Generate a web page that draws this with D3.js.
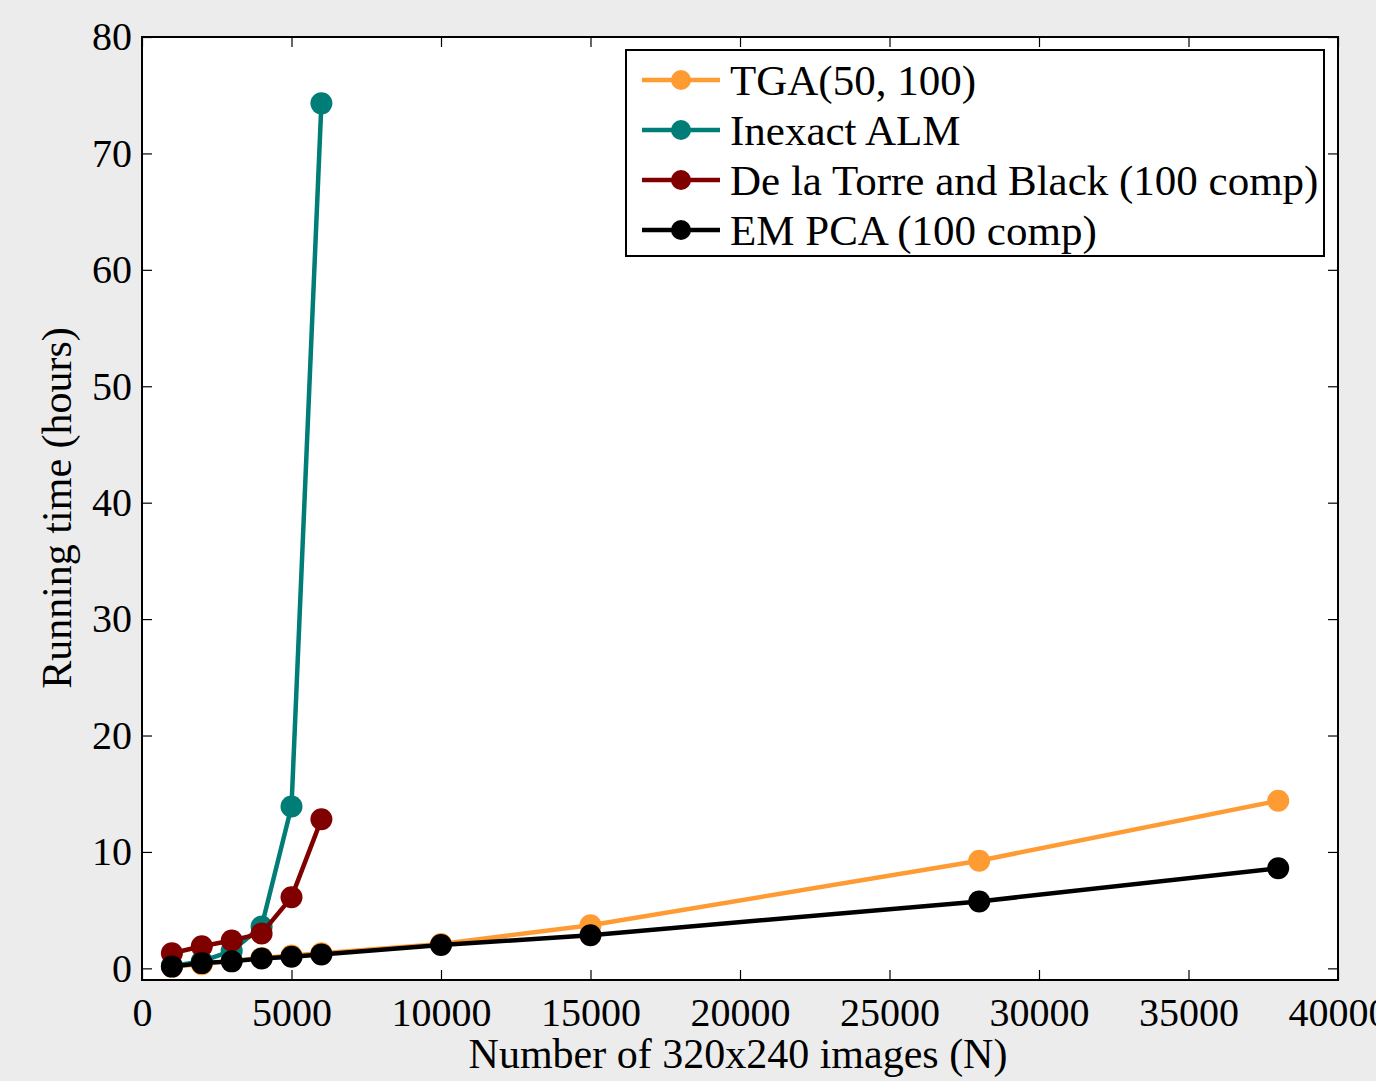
<!DOCTYPE html>
<html lang="en">
<head>
<meta charset="utf-8" />
<title>Running time</title>
<script src="https://d3js.org/d3.v7.min.js"></script>
<style>
  body { margin: 0; background: #ececec; }
  svg { display: block; }
  text { font-family: "Liberation Serif", "DejaVu Serif", serif; fill: #000; }
</style>
</head>
<body>
<div id="chart"></div>
<script>
  // data
  const xTicks = [0, 5000, 10000, 15000, 20000, 25000, 30000, 35000, 40000];
  const yTicks = [0, 10, 20, 30, 40, 50, 60, 70, 80];

  const tgaX = [1000, 2000, 3000, 4000, 5000, 6000, 10000, 15000, 28000, 38000];
  const tgaY = [0.15, 0.35, 0.65, 0.9, 1.1, 1.3, 2.1, 3.7, 9.25, 14.4];

  const almX = [1000, 2000, 3000, 4000, 5000, 6000];
  const almY = [0.2, 0.6, 1.5, 3.6, 13.9, 74.3];

  const dltX = [1000, 2000, 3000, 4000, 5000, 6000];
  const dltY = [1.3, 1.9, 2.4, 3.0, 6.1, 12.8];

  const emX = [1000, 2000, 3000, 4000, 5000, 6000, 10000, 15000, 28000, 38000];
  const emY = [0.15, 0.45, 0.6, 0.85, 1.0, 1.2, 2.0, 2.85, 5.75, 8.6];

  const series = [
    { name: "TGA(50, 100)", xs: tgaX, ys: tgaY, color: "#ff9b33" },
    { name: "Inexact ALM", xs: almX, ys: almY, color: "#007d76" },
    { name: "De la Torre and Black (100 comp)", xs: dltX, ys: dltY, color: "#800000" },
    { name: "EM PCA (100 comp)", xs: emX, ys: emY, color: "#000000" }
  ];

  const W = 1376, H = 1081;
  const margin = { top: 37, right: 38, bottom: 101, left: 142 };
  const width = W - margin.left - margin.right;
  const height = H - margin.top - margin.bottom;

  const svg = d3.select("#chart").append("svg")
    .attr("width", W).attr("height", H);

  const g = svg.append("g")
    .attr("transform", `translate(${margin.left},${margin.top})`);

  const x = d3.scaleLinear().domain([0, 40000]).range([0, width]);
  const y = d3.scaleLinear().domain([-1, 80]).range([height, 0]);

  g.append("rect")
    .attr("width", width).attr("height", height)
    .attr("fill", "#fff");

  // axes, ticks pointing inward like matlab
  const tl = 10;
  g.append("g")
    .attr("transform", `translate(0,${height})`)
    .call(d3.axisBottom(x).tickValues(xTicks).tickSize(-tl).tickPadding(18).tickFormat(d3.format("d")))
    .call(a => a.select(".domain").remove())
    .call(a => a.selectAll("text").style("font-size", "40px").attr("dy", "0.71em"));
  g.append("g")
    .call(d3.axisTop(x).tickValues(xTicks).tickSize(-tl).tickFormat(""))
    .call(a => a.select(".domain").remove());
  g.append("g")
    .call(d3.axisLeft(y).tickValues(yTicks).tickSize(-tl).tickPadding(10))
    .call(a => a.select(".domain").remove())
    .call(a => a.selectAll("text").style("font-size", "40px"));
  g.append("g")
    .attr("transform", `translate(${width},0)`)
    .call(d3.axisRight(y).tickValues(yTicks).tickSize(-tl).tickFormat(""))
    .call(a => a.select(".domain").remove());
  g.selectAll(".tick line").attr("stroke", "#000").attr("stroke-width", 1.2);

  g.append("rect")
    .attr("width", width).attr("height", height)
    .attr("fill", "none").attr("stroke", "#000").attr("stroke-width", 2);

  // series
  const line = d3.line().x(d => x(d[0])).y(d => y(d[1]));
  series.forEach(s => {
    const pts = s.xs.map((v, i) => [v, s.ys[i]]);
    g.append("path")
      .attr("d", line(pts))
      .attr("fill", "none")
      .attr("stroke", s.color)
      .attr("stroke-width", 4.5)
      .attr("stroke-linejoin", "round");
    g.selectAll(null).data(pts).enter().append("circle")
      .attr("cx", d => x(d[0]))
      .attr("cy", d => y(d[1]))
      .attr("r", 11)
      .attr("fill", s.color);
  });

  // legend
  const lg = svg.append("g").attr("transform", "translate(626,50)");
  lg.append("rect")
    .attr("width", 698).attr("height", 206)
    .attr("fill", "#fff").attr("stroke", "#000").attr("stroke-width", 2);
  series.forEach((s, i) => {
    const row = lg.append("g").attr("transform", `translate(0,${30 + i * 50})`);
    row.append("line")
      .attr("x1", 16).attr("x2", 94)
      .attr("stroke", s.color).attr("stroke-width", 4.5);
    row.append("circle").attr("cx", 55).attr("r", 10).attr("fill", s.color);
    row.append("text")
      .attr("x", 104).attr("dy", "0.35em")
      .style("font-size", "43px")
      .text(s.name);
  });

  // axis titles
  svg.append("text")
    .attr("x", 738).attr("y", 1068)
    .attr("text-anchor", "middle")
    .style("font-size", "42px")
    .text("Number of 320x240 images (N)");
  svg.append("text")
    .attr("transform", `translate(71,508) rotate(-90)`)
    .attr("text-anchor", "middle")
    .style("font-size", "42px")
    .text("Running time (hours)");
</script>
</body>
</html>
